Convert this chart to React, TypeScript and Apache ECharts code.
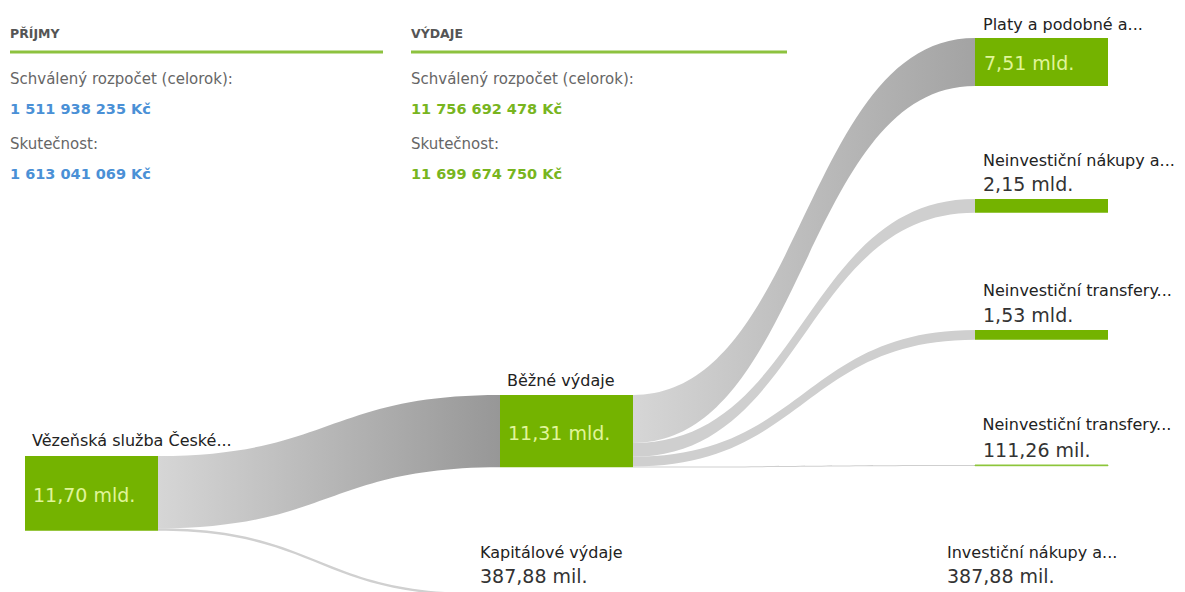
import React, { useEffect, useRef } from 'react';
import * as echarts from 'echarts';

// ---- data (values in mld. Kč) ----
const nodeKeys = ['src', 'bezne', 'kapital', 'platy', 'nakupy', 'transfery', 'transfery2', 'invest'];
const nodeLabels = [
  'Vězeňská služba České...',
  'Běžné výdaje',
  'Kapitálové výdaje',
  'Platy a podobné a...',
  'Neinvestiční nákupy a...',
  'Neinvestiční transfery...',
  'Neinvestiční transfery...',
  'Investiční nákupy a...',
];
const nodeValues = [11.69788, 11.31, 0.38788, 7.51, 2.15, 1.53, 0.11126, 0.38788];
const linkSources = [0, 0, 1, 1, 1, 1, 2];
const linkTargets = [1, 2, 3, 4, 5, 6, 7];
const linkValues = [11.31, 0.38788, 7.51, 2.15, 1.53, 0.11126, 0.38788];

const panelTitles = ['PŘÍJMY', 'VÝDAJE'];
const panelRowLabels = ['Schválený rozpočet (celorok):', 'Skutečnost:'];
const incomeValues = ['1 511 938 235 Kč', '1 613 041 069 Kč'];
const expenseValues = ['11 756 692 478 Kč', '11 699 674 750 Kč'];

// ---- layout (pixels) ----
const W = 1185;
const H = 592;
const nodeX = [25, 500, 478, 975, 975, 975, 975, 945];
const nodeY = [456, 395, 593, 38, 199, 330, 465, 593];
const labelDx = [7, 7, 2, 8, 8, 8, 8, 2];
const labelNameDy = [-16, -15, -41, -14, -39, -40, -40, -41];
const labelValueDy = [0, 0, -17, 0, -15, -15, -15, -17];
const bigNode = [true, true, false, true, false, false, false, false];
const thinNode = [false, false, false, false, false, false, true, false];

const FONT = '"DejaVu Sans", Verdana, sans-serif';
const GREEN = '#74b300';

function fmt(v: number): string {
  if (v >= 1) return v.toFixed(2).replace('.', ',') + ' mld.';
  return (v * 1000).toFixed(2).replace('.', ',') + ' mil.';
}

function grad(a: string, b: string) {
  return new echarts.graphic.LinearGradient(0, 0, 1, 0, [
    { offset: 0, color: a },
    { offset: 1, color: b },
  ]);
}

export default function App() {
  const ref = useRef<HTMLDivElement>(null);
  useEffect(() => {
    if (!ref.current) return;
    const chart = echarts.init(ref.current, null, { renderer: 'svg' });

    const linkColors = [
      grad('#d6d6d6', '#979797'),
      '#d0d0d0',
      grad('#d6d6d6', '#a3a3a3'),
      '#cfcfcf',
      '#cfcfcf',
      '#cfcfcf',
      '#d0d0d0',
    ];

    const nameNodes = nodeKeys.map((k, i) => ({
      name: k,
      value: nodeValues[i],
      localX: nodeX[i] / W,
      localY: nodeY[i] / H,
      itemStyle: thinNode[i] ? { borderColor: '#8cc63a', borderWidth: 1 } : undefined,
      label: { position: [labelDx[i], labelNameDy[i]] },
    }));
    const valueNodes = nodeKeys.map((k, i) => ({
      name: k,
      value: nodeValues[i],
      localX: nodeX[i] / W,
      localY: nodeY[i] / H,
      label: {
        position: bigNode[i] ? [labelDx[i] + 1, '52%'] : [labelDx[i], labelValueDy[i]],
        color: bigNode[i] ? '#e0f59a' : '#333333',
      },
    }));
    const links = linkSources.map((s, i) => ({
      source: s,
      target: linkTargets[i],
      value: linkValues[i],
      lineStyle: { color: linkColors[i], opacity: 1 },
    }));
    const hiddenLinks = linkSources.map((s, i) => ({
      source: s,
      target: linkTargets[i],
      value: linkValues[i],
    }));

    const common = {
      type: 'sankey',
      left: 0,
      top: 0,
      right: 0,
      bottom: 0,
      nodeWidth: 133,
      nodeGap: 129.3,
      layoutIterations: 0,
      draggable: false,
      emphasis: { disabled: true },
    };

    const graphics: any[] = [];
    const panelX = [10, 411];
    const panelW = [373, 376];
    panelTitles.forEach((t, p) => {
      const x = panelX[p];
      graphics.push({
        type: 'text', x, y: 33,
        style: { text: t, font: 'bold 12.5px ' + FONT, fill: '#555555', verticalAlign: 'middle' },
      });
      graphics.push({
        type: 'rect', shape: { x, y: 50.5, width: panelW[p], height: 3 },
        style: { fill: '#8dc23f' },
      });
      const vals = p === 0 ? incomeValues : expenseValues;
      const col = p === 0 ? '#4a90d6' : '#78b51e';
      panelRowLabels.forEach((lbl, r) => {
        graphics.push({
          type: 'text', x, y: 79 + r * 65,
          style: { text: lbl, font: '15px ' + FONT, fill: '#666666', verticalAlign: 'middle' },
        });
        graphics.push({
          type: 'text', x, y: 109 + r * 65,
          style: { text: vals[r], font: 'bold 14.5px ' + FONT, fill: col, verticalAlign: 'middle' },
        });
      });
    });

    chart.setOption({
      animation: false,
      backgroundColor: '#ffffff',
      graphic: graphics,
      series: [
        {
          ...common,
          data: nameNodes,
          links,
          itemStyle: { color: GREEN, borderWidth: 0 },
          label: {
            show: true,
            align: 'left',
            verticalAlign: 'middle',
            fontFamily: FONT,
            fontSize: 16,
            color: '#222222',
            formatter: (p: any) => nodeLabels[p.dataIndex],
          },
        },
        {
          ...common,
          z: 5,
          silent: true,
          data: valueNodes,
          links: hiddenLinks,
          itemStyle: { color: GREEN, opacity: 0, borderWidth: 0 },
          lineStyle: { opacity: 0 },
          label: {
            show: true,
            align: 'left',
            verticalAlign: 'middle',
            fontFamily: FONT,
            fontSize: 19,
            formatter: (p: any) => fmt(nodeValues[p.dataIndex]),
          },
        },
      ],
    } as any);

    return () => chart.dispose();
  }, []);

  return (
    <div
      ref={ref}
      style={{ position: 'fixed', left: 0, top: 0, width: W, height: H, background: '#fff' }}
    />
  );
}
